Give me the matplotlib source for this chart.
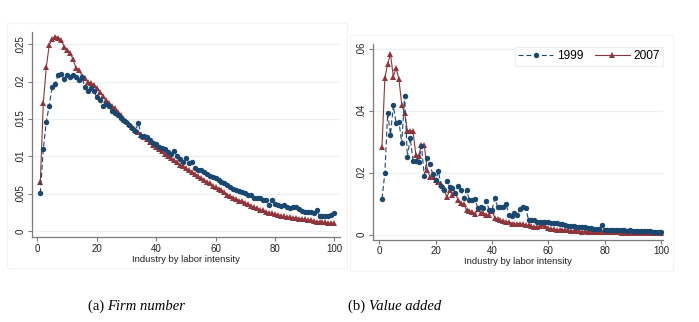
import numpy as np
import matplotlib.pyplot as plt
from matplotlib.patches import Rectangle

industry = np.arange(1, 101)

# share of firms by industry (sorted by labor intensity)
firm_1999 = [
    .0051, .0110, .0146, .0168, .0193, .0197, .0209, .0210, .0204, .0209,
    .0206, .0209, .0206, .0202, .0206, .0193, .0188, .0192, .0187, .0180,
    .0176, .0168, .0170, .0168, .0161, .0158, .0155, .0151, .0149, .0146,
    .0142, .0138, .0134, .0145, .0128, .0127, .0126, .0122, .0118, .0117,
    .0113, .0112, .0110, .0106, .0103, .0108, .0101, .0097, .0093, .0098,
    .0091, .0092, .0084, .0082, .0082, .0079, .0076, .0074, .0072, .0071,
    .0068, .0066, .0064, .0062, .0059, .0056, .0055, .0054, .0053, .0051,
    .0049, .0049, .0045, .0044, .0044, .0042, .0042, .0035, .0042, .0037,
    .0035, .0034, .0035, .0032, .0031, .0033, .0033, .0030, .0027, .0026,
    .0026, .0026, .0024, .0028, .0021, .0020, .0020, .0020, .0022, .0025]
firm_2007 = [
    .0066, .0171, .0219, .0249, .0257, .0260, .0259, .0256, .0247, .0243,
    .0239, .0230, .0218, .0216, .0208, .0205, .0200, .0198, .0195, .0191,
    .0186, .0181, .0176, .0172, .0168, .0165, .0160, .0156, .0151, .0147,
    .0143, .0140, .0136, .0133, .0129, .0126, .0123, .0119, .0116, .0113,
    .0110, .0107, .0104, .0101, .0098, .0095, .0092, .0089, .0087, .0084,
    .0082, .0079, .0077, .0074, .0071, .0069, .0066, .0064, .0061, .0059,
    .0057, .0055, .0052, .0049, .0047, .0045, .0043, .0041, .0040, .0038,
    .0036, .0034, .0032, .0031, .0029, .0028, .0026, .0025, .0024, .0023,
    .0022, .0021, .0020, .0019, .0019, .0018, .0018, .0017, .0017, .0016,
    .0015, .0015, .0014, .0013, .0013, .0012, .0012, .0011, .0011, .0011]

# share of value added
va_1999 = [
    .0116, .0199, .0392, .0323, .0417, .0359, .0365, .0295, .0447, .0250,
    .0313, .0239, .0237, .0236, .0286, .0190, .0246, .0228, .0195, .0176,
    .0205, .0157, .0145, .0174, .0153, .0150, .0134, .0158, .0144, .0117,
    .0144, .0112, .0112, .0114, .0085, .0090, .0087, .0108, .0080, .0080,
    .0117, .0090, .0088, .0090, .0098, .0064, .0060, .0071, .0064, .0082,
    .0090, .0085, .0047, .0048, .0046, .0042, .0042, .0040, .0041, .0040,
    .0038, .0037, .0037, .0036, .0036, .0030, .0028, .0028, .0027, .0026,
    .0025, .0024, .0024, .0022, .0020, .0018, .0019, .0017, .0031, .0015,
    .0016, .0015, .0015, .0014, .0015, .0015, .0014, .0013, .0014, .0013,
    .0012, .0013, .0012, .0013, .0011, .0011, .0010, .0010, .0010, .0009]
va_2007 = [
    .0284, .0505, .0551, .0583, .0510, .0537, .0501, .0418, .0392, .0335,
    .0336, .0333, .0257, .0254, .0288, .0289, .0209, .0187, .0186, .0176,
    .0171, .0163, .0150, .0120, .0144, .0128, .0134, .0112, .0101, .0098,
    .0080, .0078, .0074, .0066, .0082, .0070, .0069, .0064, .0063, .0077,
    .0055, .0050, .0047, .0045, .0042, .0040, .0036, .0034, .0036, .0036,
    .0033, .0031, .0030, .0027, .0026, .0026, .0028, .0035, .0027, .0022,
    .0018, .0017, .0016, .0016, .0016, .0016, .0014, .0013, .0012, .0012,
    .0011, .0010, .0011, .0010, .0010, .0010, .0009, .0010, .0009, .0009,
    .0009, .0008, .0008, .0008, .0008, .0007, .0007, .0007, .0007, .0007,
    .0006, .0006, .0006, .0006, .0006, .0005, .0005, .0005, .0005, .0005]

xticks = [0, 20, 40, 60, 80, 100]
yticks_a = [0, .005, .01, .015, .02, .025]
ylabels_a = ['0', '.005', '.01', '.015', '.02', '.025']
yticks_b = [0, .02, .04, .06]
ylabels_b = ['0', '.02', '.04', '.06']

NAVY = '#1a476f'
MAROON = '#90353b'
AXIS = '#7a7a7a'
GRID = '#eaf1f3'

plt.rcParams['font.family'] = ['Liberation Sans', 'DejaVu Sans']

fig = plt.figure(figsize=(6.99, 3.22), dpi=100)
W, H = 699, 322


def px_axes(x0, y0, x1, y1):
  # rectangle given in pixel coordinates (top-left origin)
  return fig.add_axes([x0 / W, 1 - y1 / H, (x1 - x0) / W, (y1 - y0) / H])


def style(ax, yticks, ylabels, xlim, ylim):
  ax.set_xlim(*xlim)
  ax.set_ylim(*ylim)
  for s in ['top', 'right']:
    ax.spines[s].set_visible(False)
  for s in ['left', 'bottom']:
    ax.spines[s].set_color(AXIS)
    ax.spines[s].set_linewidth(0.9)
  ax.set_xticks(xticks)
  ax.set_yticks(yticks)
  ax.set_yticklabels(ylabels, rotation=90, va='center')
  ax.tick_params(colors=AXIS, labelcolor='#222222', labelsize=7,
                 length=3, width=0.8, pad=2)
  ax.yaxis.grid(True, color=GRID, lw=0.9)
  ax.set_axisbelow(True)
  ax.set_xlabel('Industry by labor intensity', fontsize=6.8,
                color='#222222', labelpad=0.5)


def draw(ax, s99, s07):
  ax.plot(industry, s99, color=NAVY, lw=0.8, ls=(0, (4.5, 2.5)),
          marker='o', ms=3.9, mew=0, label='1999', zorder=3)
  ax.plot(industry, s07, color=MAROON, lw=0.8, ls='-',
          marker='^', ms=4.2, mew=0, label='2007', zorder=2)


# faint graph-region frames
fig.patches.append(Rectangle((7 / W, 1 - 268 / H), 340 / W, 245 / H,
                             transform=fig.transFigure, fill=False,
                             ec='#f4f4f4', lw=0.8))
fig.patches.append(Rectangle((350 / W, 1 - 271 / H), 323 / W, 236 / H,
                             transform=fig.transFigure, fill=False,
                             ec='#f4f4f4', lw=0.8))

ax1 = px_axes(32.3, 32.3, 340, 237.3)
draw(ax1, firm_1999, firm_2007)
style(ax1, yticks_a, ylabels_a, (-1.7, 101.9), (-0.0008, 0.0266))

ax2 = px_axes(373.3, 44.3, 663.3, 239.5)
draw(ax2, va_1999, va_2007)
style(ax2, yticks_b, ylabels_b, (-2.1, 100.8), (-0.00155, 0.0614))

leg = ax2.legend(loc='upper right', bbox_to_anchor=(1.0, 1 - 2.5 / 195.2),
                 ncol=2, fontsize=8.6, frameon=True, fancybox=False,
                 handlelength=2.9, columnspacing=1.0, handletextpad=0.3,
                 borderpad=0.3, borderaxespad=0.0)
leg.get_frame().set_edgecolor('#e6eef0')
leg.get_frame().set_linewidth(0.8)

# captions: label in roman, name in italic
fig.canvas.draw()
renderer = fig.canvas.get_renderer()
for cx, tag, name in [(136.5, '(a) ', 'Firm number'), (395, '(b) ', 'Value added')]:
  t1 = fig.text(0, 0, tag, family='Liberation Serif', fontsize=10.5)
  t2 = fig.text(0, 0, name, family='Liberation Serif', style='italic',
                fontsize=10.5)
  w1 = t1.get_window_extent(renderer).width
  w2 = t2.get_window_extent(renderer).width
  x0 = cx - (w1 + w2) / 2
  y = 1 - 310 / H
  t1.set_position((x0 / W, y))
  t2.set_position(((x0 + w1) / W, y))

fig.savefig('out.png', dpi=100, facecolor='white')
